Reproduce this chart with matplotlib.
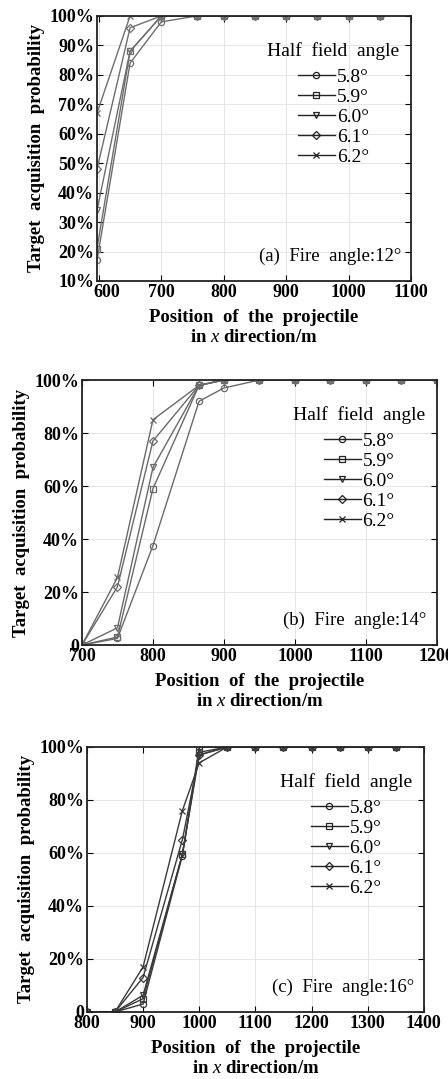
import matplotlib
matplotlib.use("Agg")
import matplotlib.pyplot as plt
from matplotlib.ticker import FuncFormatter
from matplotlib.transforms import ScaledTranslation

plt.rcParams["font.family"] = ["Liberation Serif", "DejaVu Serif"]
plt.rcParams["mathtext.fontset"] = "custom"
plt.rcParams["mathtext.it"] = "Liberation Serif:italic"
plt.rcParams["mathtext.rm"] = "Liberation Serif"

labels = ["5.8°", "5.9°", "6.0°", "6.1°", "6.2°"]
markers = ["o", "s", "v", "D", "x"]

# (a) fire angle 12
x_a = [597, 650, 700, 757, 800, 850, 900, 950, 1000, 1050]
y_a = [
    [17, 84, 98, 100, 100, 100, 100, 100, 100, 100],
    [21, 88, 100, 100, 100, 100, 100, 100, 100, 100],
    [34, 88, 100, 100, 100, 100, 100, 100, 100, 100],
    [48, 96, 100, 100, 100, 100, 100, 100, 100, 100],
    [67, 100, 100, 100, 100, 100, 100, 100, 100, 100],
]

# (b) fire angle 14
x_b = [700, 750, 800, 865, 900, 950, 1000, 1050, 1100, 1150, 1200]
y_b = [
    [0, 2.5, 37.5, 92, 97, 100, 100, 100, 100, 100, 100],
    [0, 3, 59, 98, 100, 100, 100, 100, 100, 100, 100],
    [0, 6.5, 67, 98, 100, 100, 100, 100, 100, 100, 100],
    [0, 22, 77, 98, 100, 100, 100, 100, 100, 100, 100],
    [0, 25.5, 85, 98, 100, 100, 100, 100, 100, 100, 100],
]

# (c) fire angle 16
x_c = [800, 850, 900, 970, 1000, 1050, 1100, 1150, 1200, 1250, 1300, 1350]
y_c = [
    [0, 0, 3, 59, 100, 100, 100, 100, 100, 100, 100, 100],
    [0, 0, 5, 59.5, 98, 100, 100, 100, 100, 100, 100, 100],
    [0, 0, 6.3, 59.5, 97, 100, 100, 100, 100, 100, 100, 100],
    [0, 0, 13, 65, 97, 100, 100, 100, 100, 100, 100, 100],
    [0, 0, 17, 76, 94, 100, 100, 100, 100, 100, 100, 100],
]

panels = [
    dict(x=x_a, y=y_a, pos=[0.2165, 0.7396, 0.701, 0.2456], xlim=(597, 1100),
         xticks=[600, 700, 800, 900, 1000, 1100], ylim=(10, 100),
         yticks=list(range(10, 101, 10)), note="(a)  Fire  angle:12°", color="#6e6e6e"),
    dict(x=x_b, y=y_b, pos=[0.183, 0.4022, 0.792, 0.2456], xlim=(700, 1200),
         xticks=[700, 800, 900, 1000, 1100, 1200], ylim=(0, 100),
         yticks=[0, 20, 40, 60, 80, 100], note="(b)  Fire  angle:14°", color="#6a6a6a"),
    dict(x=x_c, y=y_c, pos=[0.194, 0.0621, 0.752, 0.2456], xlim=(800, 1400),
         xticks=[800, 900, 1000, 1100, 1200, 1300, 1400], ylim=(0, 100),
         yticks=[0, 20, 40, 60, 80, 100], note="(c)  Fire  angle:16°", color="#3a3a3a"),
]


def pct(v, pos):
    return "0" if v == 0 else "%d%%" % v


fig = plt.figure(figsize=(4.48, 10.79), dpi=100)

for i, p in enumerate(panels):
    ax = fig.add_axes(p["pos"])
    for ys, lab, m in zip(p["y"], labels, markers):
        ax.plot(p["x"], ys, color=p["color"], lw=1.0, marker=m, ms=4.5,
                mfc="none", mec=p["color"], mew=0.9, label=lab)
    ax.set_xlim(*p["xlim"])
    ax.set_ylim(*p["ylim"])
    ax.set_xticks(p["xticks"])
    ax.set_yticks(p["yticks"])
    ax.yaxis.set_major_formatter(FuncFormatter(pct))
    ax.grid(True, color="#e6e6e6", lw=0.7)
    ax.set_axisbelow(True)
    ax.tick_params(direction="in", length=4, width=0.8, top=True, right=True,
                   labelsize=13, pad=2)
    for t in ax.get_xticklabels() + ax.get_yticklabels():
        t.set_fontweight("bold")
    if i == 0:
        # first x label sits a little right of its tick, as in the original
        lbl = ax.get_xticklabels()[0]
        lbl.set_transform(lbl.get_transform() + ScaledTranslation(0.08, 0, fig.dpi_scale_trans))
    for s in ax.spines.values():
        s.set_linewidth(1.3)
        s.set_color("#222222")
    ax.set_ylabel("Target  acquisition  probability", fontsize=13.5,
                  fontweight="bold", labelpad=3)
    ax.set_xlabel("Position  of  the  projectile\nin $x$ direction/m",
                  fontsize=13.5, fontweight="bold", labelpad=6, linespacing=1.2)
    leg = ax.legend(title="Half  field  angle", loc="upper right",
                    bbox_to_anchor=(1.0, 0.945), frameon=False, fontsize=14,
                    title_fontsize=14, handlelength=1.9, handletextpad=0.1,
                    labelspacing=0.12, borderaxespad=0.2)
    leg._legend_box.sep = 6
    for h in leg.legend_handles:
        h.set_color("#222222")
        h.set_markeredgecolor("#222222")
    ax.text(0.97, 0.06, p["note"], transform=ax.transAxes, ha="right",
            va="bottom", fontsize=13.5)

fig.savefig("out.png", dpi=100)
